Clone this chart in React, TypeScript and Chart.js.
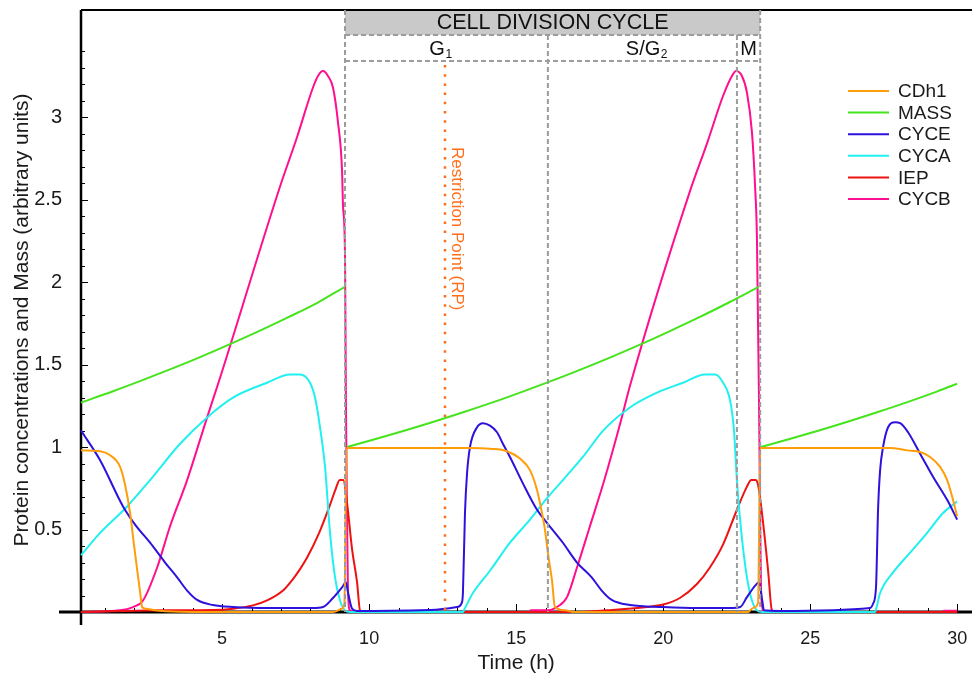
import React, { useEffect, useRef } from "react";
import { Chart, registerables } from "chart.js";

Chart.register(...registerables);

const FONT = "'Liberation Sans', Arial, Helvetica, sans-serif";

// ---------- data ----------
const seriesNames = ["CDh1", "MASS", "CYCE", "CYCA", "IEP", "CYCB"];
const seriesColors = ["#ff9d0a", "#45e41c", "#2c12dc", "#22f0f0", "#ee1212", "#ff0f8f"];

const cdh1Time = [0.2, 0.85, 1.19, 1.53, 1.7, 1.87, 2.0, 2.1, 2.21, 2.28, 2.41, 2.72, 3.06, 4.0, 8.77, 9.08, 9.16, 9.23, 13.43, 14.11, 14.69, 15.13, 15.47, 15.71, 15.88, 15.98, 16.08, 16.22, 16.32, 16.66, 17.0, 22.9, 23.06, 23.23, 23.3, 27.72, 28.3, 28.74, 29.08, 29.42, 29.66, 29.83, 30.0];
const cdh1Values = [0.98, 0.975, 0.95, 0.88, 0.77, 0.6, 0.41, 0.27, 0.12, 0.03, 0.02, 0.01, 0.005, 0, 0, 0.02, 0.055, 0.995, 0.995, 0.99, 0.975, 0.93, 0.86, 0.74, 0.6, 0.5, 0.36, 0.19, 0.03, 0.01, 0, 0, 0.025, 0.055, 0.995, 0.995, 0.98, 0.97, 0.94, 0.88, 0.8, 0.7, 0.58];

const massTime = [0.2, 1.27, 2.27, 3.27, 4.27, 5.27, 6.27, 7.27, 8.27, 9.16, 9.2, 9.25, 10.25, 11.25, 12.25, 13.25, 14.25, 15.25, 16.25, 17.25, 18.25, 19.25, 20.25, 21.25, 22.25, 23.25, 23.29, 23.33, 24.33, 25.33, 26.33, 27.33, 28.33, 29.33, 30.0];
const massValues = [1.27, 1.337, 1.404, 1.474, 1.547, 1.624, 1.704, 1.789, 1.878, 1.97, null, 1.0, 1.05, 1.102, 1.157, 1.214, 1.274, 1.338, 1.404, 1.474, 1.547, 1.624, 1.705, 1.789, 1.878, 1.971, null, 1.0, 1.05, 1.102, 1.157, 1.214, 1.274, 1.338, 1.384];

const cyceTime = [0.2, 0.85, 1.63, 2.04, 2.55, 3.06, 3.47, 3.81, 4.15, 4.69, 5.37, 6.63, 8.09, 8.43, 8.77, 9.08, 9.21, 9.28, 9.42, 9.59, 12.07, 12.99, 13.16, 13.19, 13.26, 13.33, 13.43, 13.67, 13.87, 14.11, 14.35, 14.55, 14.79, 15.23, 15.71, 16.05, 16.59, 17.07, 17.57, 17.91, 18.25, 18.87, 20.0, 21.15, 22.28, 22.62, 22.85, 23.13, 23.26, 23.37, 23.43, 23.98, 27.04, 27.14, 27.24, 27.31, 27.38, 27.48, 27.65, 27.89, 28.06, 28.33, 28.74, 29.18, 29.66, 30.0];
const cyceValues = [1.1, 0.92, 0.64, 0.53, 0.42, 0.3, 0.21, 0.13, 0.073, 0.042, 0.03, 0.024, 0.024, 0.03, 0.085, 0.15, 0.18, 0.12, 0.02, 0.006, 0.012, 0.03, 0.06, 0.115, 0.6, 0.84, 1.0, 1.12, 1.145, 1.13, 1.09, 1.02, 0.94, 0.78, 0.62, 0.54, 0.42, 0.3, 0.21, 0.13, 0.073, 0.042, 0.03, 0.024, 0.024, 0.03, 0.09, 0.16, 0.18, 0.07, 0.01, 0.006, 0.024, 0.05, 0.15, 0.62, 0.86, 1.0, 1.12, 1.15, 1.145, 1.09, 0.96, 0.82, 0.68, 0.56];

const cycaTime = [0.2, 0.85, 1.77, 2.55, 3.57, 4.49, 5.37, 6.53, 7.31, 7.65, 7.99, 8.16, 8.33, 8.5, 8.67, 8.84, 9.01, 9.18, 9.35, 13.19, 13.22, 13.53, 14.11, 14.79, 15.47, 16.05, 16.59, 17.27, 17.96, 18.87, 19.79, 20.68, 21.42, 21.77, 22.04, 22.28, 22.41, 22.51, 22.65, 22.85, 23.02, 23.19, 23.36, 27.2, 27.23, 27.38, 27.82, 28.4, 28.98, 29.52, 30.0];
const cycaValues = [0.345, 0.48, 0.64, 0.8, 1.02, 1.18, 1.3, 1.39, 1.44, 1.44, 1.39, 1.3, 1.12, 0.88, 0.48, 0.21, 0.07, 0.01, 0, 0, 0.01, 0.115, 0.25, 0.42, 0.56, 0.69, 0.8, 0.94, 1.1, 1.24, 1.33, 1.39, 1.44, 1.44, 1.39, 1.28, 1.1, 0.8, 0.5, 0.21, 0.07, 0.01, 0, 0, 0.01, 0.115, 0.24, 0.36, 0.48, 0.6, 0.67];

const iepTime = [0.2, 3.1, 4.69, 5.37, 6.05, 6.53, 7.07, 7.41, 7.65, 7.89, 8.3, 8.67, 8.87, 9.0, 9.12, 9.25, 9.42, 9.59, 9.69, 9.85, 17.0, 18.09, 19.45, 20.0, 20.57, 21.15, 21.59, 22.04, 22.51, 22.85, 23.0, 23.14, 23.23, 23.4, 23.57, 23.7, 23.81, 30.0];
const iepValues = [0, 0.01, 0.012, 0.02, 0.04, 0.07, 0.13, 0.2, 0.26, 0.33, 0.48, 0.65, 0.75, 0.8, 0.8, 0.66, 0.38, 0.18, 0.01, 0, 0, 0.01, 0.03, 0.045, 0.085, 0.17, 0.27, 0.41, 0.62, 0.76, 0.8, 0.8, 0.77, 0.54, 0.25, 0.01, 0, 0];

const cycbTime = [0.2, 1.53, 1.97, 2.31, 2.79, 3.23, 3.81, 4.49, 4.93, 6.97, 7.55, 8.09, 8.26, 8.43, 8.6, 8.77, 8.94, 9.08, 9.11, 9.18, 9.21, 9.25, 9.28, 9.35, 9.52, 9.69, 15.47, 15.5, 16.05, 16.39, 16.73, 17.07, 17.51, 18.0, 18.55, 18.87, 20.91, 21.49, 22.04, 22.34, 22.48, 22.68, 22.85, 23.02, 23.13, 23.19, 23.26, 23.3, 23.33, 23.4, 23.57, 29.5, 29.55, 30.0];
const cycbValues = [0, 0.01, 0.03, 0.07, 0.27, 0.52, 0.8, 1.18, 1.42, 2.58, 2.88, 3.18, 3.25, 3.28, 3.25, 3.18, 2.97, 2.67, 2.47, 2.16, 1.28, 0.56, 0.13, 0.01, 0.005, 0, 0, 0.01, 0.01, 0.03, 0.09, 0.27, 0.52, 0.8, 1.15, 1.37, 2.55, 2.84, 3.13, 3.25, 3.28, 3.25, 3.15, 2.91, 2.57, 2.27, 1.28, 0.56, 0.13, 0.01, 0, 0, 0.008, 0.008];

const seriesTimes = [cdh1Time, massTime, cyceTime, cycaTime, iepTime, cycbTime];
const seriesValues = [cdh1Values, massValues, cyceValues, cycaValues, iepValues, cycbValues];

const xTickLabels = [5, 10, 15, 20, 25, 30];
const yTickLabels = [0.5, 1, 1.5, 2, 2.5, 3];
const xMin = 0.2;
const xMax = 30.505;
const yMin = 0;
const yMax = 3.65;

const phaseBoundaries = [9.18, 16.08, 22.51, 23.3];
const phaseNames = ["G", "S/G", "M"];
const phaseSubs = ["1", "2", ""];
const phaseLabelShift = [-6, 4, 0];
const restrictionPoint = 12.58;
const headerTitle = "CELL DIVISION CYCLE";
const restrictionLabel = "Restriction Point (RP)";
const xTitle = "Time (h)";
const yTitle = "Protein concentrations and Mass (arbitrary units)";

// ---------- drawing helpers ----------
const GRAY = "#9c9c9c";
const RP_COLOR = "#ff6f1a";

function dashedLine(ctx: CanvasRenderingContext2D, x1: number, y1: number, x2: number, y2: number) {
  ctx.save();
  ctx.strokeStyle = GRAY;
  ctx.lineWidth = 2;
  ctx.setLineDash([5, 3]);
  ctx.beginPath();
  ctx.moveTo(x1, y1);
  ctx.lineTo(x2, y2);
  ctx.stroke();
  ctx.restore();
}

const overlayPlugin = {
  id: "overlay",
  beforeDatasetsDraw(chart: any) {
    const { ctx, chartArea, scales } = chart;
    const xs = scales.x;
    const ys = scales.y;
    const top = chartArea.top;
    const y0 = ys.getPixelForValue(0);
    ctx.save();
    const bx1 = xs.getPixelForValue(phaseBoundaries[0]);
    const bx2 = xs.getPixelForValue(phaseBoundaries[3]);
    ctx.fillStyle = "#c9c9c9";
    ctx.fillRect(bx1, top + 1, bx2 - bx1, 24);

    ctx.strokeStyle = "#000";
    ctx.lineWidth = 3;
    ctx.beginPath();
    ctx.moveTo(chartArea.left - 22, y0);
    ctx.lineTo(chartArea.right, y0);
    ctx.stroke();
    ctx.lineWidth = 2.5;
    ctx.beginPath();
    ctx.moveTo(chartArea.left, top);
    ctx.lineTo(chartArea.left, y0 + 13);
    ctx.stroke();
    ctx.lineWidth = 2;
    ctx.beginPath();
    ctx.moveTo(chartArea.left, top);
    ctx.lineTo(chartArea.right, top);
    ctx.stroke();

    ctx.lineWidth = 1;
    for (let i = 1; i <= 34; i++) {
      const p = Math.round(ys.getPixelForValue(i / 10)) + 0.5;
      const len = i % 5 === 0 ? 7 : 4;
      ctx.beginPath();
      ctx.moveTo(chartArea.left, p);
      ctx.lineTo(chartArea.left + len, p);
      ctx.stroke();
    }
    for (let t = 1; t <= 30; t++) {
      const p = Math.round(xs.getPixelForValue(t)) + 0.5;
      const len = t % 5 === 0 ? 8 : 4;
      ctx.beginPath();
      ctx.moveTo(p, y0);
      ctx.lineTo(p, y0 - len);
      ctx.stroke();
    }
    ctx.restore();
  },
  afterDatasetsDraw(chart: any) {
    const { ctx, chartArea, scales } = chart;
    const xs = scales.x;
    const ys = scales.y;
    const top = chartArea.top;
    const y0 = ys.getPixelForValue(0);
    const px = phaseBoundaries.map((b) => xs.getPixelForValue(b));
    const rowTop = top + 25;
    const rowBottom = top + 51;

    ctx.save();
    const rx = xs.getPixelForValue(restrictionPoint);
    ctx.strokeStyle = RP_COLOR;
    ctx.lineWidth = 2.5;
    ctx.setLineDash([2.5, 6.7]);
    ctx.beginPath();
    ctx.moveTo(rx, rowBottom + 4);
    ctx.lineTo(rx, y0);
    ctx.stroke();
    ctx.restore();

    dashedLine(ctx, px[0], top, px[0], y0);
    dashedLine(ctx, px[3], top, px[3], y0);
    dashedLine(ctx, px[1], rowTop, px[1], y0);
    dashedLine(ctx, px[2], rowTop, px[2], y0);
    dashedLine(ctx, px[0], rowTop, px[3], rowTop);
    dashedLine(ctx, px[0], rowBottom, px[3], rowBottom);

    ctx.save();
    ctx.fillStyle = "#111";
    ctx.textAlign = "center";
    ctx.textBaseline = "middle";
    ctx.font = `21.5px ${FONT}`;
    ctx.fillText(headerTitle, (px[0] + px[3]) / 2, top + 13);

    for (let i = 0; i < 3; i++) {
      const cx = (px[i] + px[i + 1]) / 2 + phaseLabelShift[i];
      ctx.font = `20px ${FONT}`;
      const mainW = ctx.measureText(phaseNames[i]).width;
      ctx.font = `12px ${FONT}`;
      const subW = phaseSubs[i] ? ctx.measureText(phaseSubs[i]).width : 0;
      const start = cx - (mainW + subW) / 2;
      ctx.textAlign = "left";
      ctx.textBaseline = "alphabetic";
      ctx.font = `20px ${FONT}`;
      ctx.fillText(phaseNames[i], start, rowTop + 20);
      if (phaseSubs[i]) {
        ctx.font = `12px ${FONT}`;
        ctx.fillText(phaseSubs[i], start + mainW + 0.5, rowTop + 23);
      }
    }

    ctx.save();
    ctx.translate(rx + 12, rowBottom + 86);
    ctx.rotate(Math.PI / 2);
    ctx.fillStyle = RP_COLOR;
    ctx.font = `17px ${FONT}`;
    ctx.textAlign = "left";
    ctx.textBaseline = "middle";
    ctx.fillText(restrictionLabel, 0, 0);
    ctx.restore();

    const lx = chartArea.right - 124;
    for (let i = 0; i < seriesNames.length; i++) {
      const ly = top + 81 + i * 21.6;
      ctx.strokeStyle = seriesColors[i];
      ctx.lineWidth = 2;
      ctx.beginPath();
      ctx.moveTo(lx, ly);
      ctx.lineTo(lx + 41, ly);
      ctx.stroke();
      ctx.fillStyle = "#1a1a1a";
      ctx.font = `19px ${FONT}`;
      ctx.textAlign = "left";
      ctx.textBaseline = "middle";
      ctx.fillText(seriesNames[i], lx + 50, ly + 1);
    }

    ctx.fillStyle = "#1a1a1a";
    ctx.font = `21px ${FONT}`;
    ctx.textAlign = "center";
    ctx.textBaseline = "middle";
    ctx.fillText(xTitle, xs.getPixelForValue(15), 663);
    ctx.save();
    ctx.translate(22, 320);
    ctx.rotate(-Math.PI / 2);
    ctx.fillText(yTitle, 0, 0);
    ctx.restore();
    ctx.restore();
  },
};

export default function App() {
  const canvasRef = useRef<HTMLCanvasElement | null>(null);

  useEffect(() => {
    const canvas = canvasRef.current;
    if (!canvas) return;
    const datasets = seriesNames.map((name, i) => ({
      label: name,
      data: seriesTimes[i].map((t, j) => ({ x: t, y: seriesValues[i][j] })),
      borderColor: seriesColors[i],
      backgroundColor: seriesColors[i],
      borderWidth: 2,
      pointRadius: 0,
      fill: false,
      spanGaps: false,
      cubicInterpolationMode: "monotone" as const,
      clip: false as any,
    }));
    const chart = new Chart(canvas, {
      type: "line",
      data: { datasets },
      options: {
        animation: false,
        responsive: false,
        maintainAspectRatio: false,
        devicePixelRatio: 1,
        layout: { padding: { top: 10, left: 0, right: 0, bottom: 0 } },
        plugins: { legend: { display: false }, tooltip: { enabled: false } },
        scales: {
          x: {
            type: "linear",
            min: xMin,
            max: xMax,
            afterFit: (s: any) => {
              s.height = 68;
              s.paddingLeft = 0;
              s.paddingRight = 0;
            },
            afterBuildTicks: (s: any) => {
              s.ticks = xTickLabels.map((v) => ({ value: v }));
            },
            grid: { display: false, drawTicks: false },
            border: { display: false },
            ticks: {
              padding: 16,
              color: "#1a1a1a",
              font: { size: 18, family: FONT },
              maxRotation: 0,
              autoSkip: false,
              callback: (v: any) => String(v),
            },
          },
          y: {
            type: "linear",
            min: yMin,
            max: yMax,
            afterFit: (s: any) => {
              s.width = 81;
              s.paddingTop = 0;
              s.paddingBottom = 0;
            },
            afterBuildTicks: (s: any) => {
              s.ticks = yTickLabels.map((v) => ({ value: v }));
            },
            grid: { display: false, drawTicks: false },
            border: { display: false },
            ticks: {
              padding: 19,
              color: "#1a1a1a",
              font: { size: 20, family: FONT },
              autoSkip: false,
              callback: (v: any) => String(v),
            },
          },
        },
      },
      plugins: [overlayPlugin],
    });
    return () => chart.destroy();
  }, []);

  return (
    <div style={{ position: "absolute", left: 0, top: 0, width: 972, height: 680, background: "#fff" }}>
      <canvas ref={canvasRef} width={972} height={680} style={{ display: "block", width: 972, height: 680 }} />
    </div>
  );
}
